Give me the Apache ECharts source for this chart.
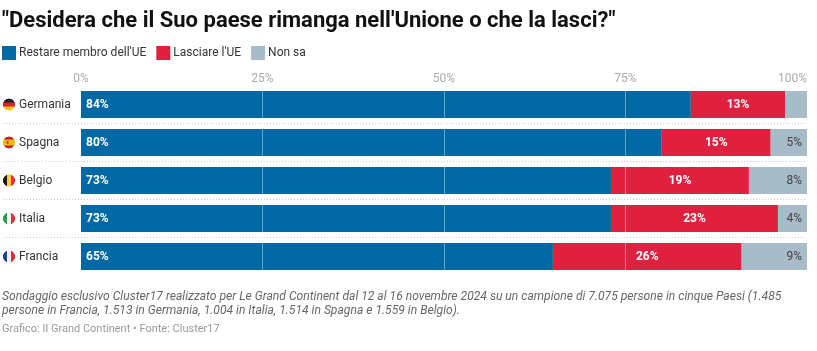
<!DOCTYPE html>
<html><head><meta charset="utf-8">
<script src="https://cdn.jsdelivr.net/npm/echarts@6/dist/echarts.min.js"></script>
<style>html,body{margin:0;padding:0;background:#fff}#c{width:817px;height:351px}</style>
</head><body><div id="c"></div>
<script>
const categories = ["Germania","Spagna","Belgio","Italia","Francia"];
const restare = [84,80,73,73,65];
const lasciare = [13,15,19,23,26];
const nonSa = [3,5,8,4,9];
const seriesNames = ["Restare membro dell'UE","Lasciare l'UE","Non sa"];
const colors = ["#0069a3","#df203e","#a7bbc8"];
const titleText = "\"Desidera che il Suo paese rimanga nell'Unione o che la lasci?\"";
const note1 = "Sondaggio esclusivo Cluster17 realizzato per Le Grand Continent dal 12 al 16 novembre 2024 su un campione di 7.075 persone in cinque Paesi (1.485";
const note2 = "persone in Francia, 1.513 in Germania, 1.004 in Italia, 1.514 in Spagna e 1.559 in Belgio).";
const credit = "Grafico: Il Grand Continent • Fonte: Cluster17";
const flags = {
  Germania:{dir:"h",c:["#222222","#d8242a","#f5c518"]},
  Spagna:{dir:"h",c:["#c8202a","#f2b90f","#f2b90f","#c8202a"],emblem:"#a0522d"},
  Belgio:{dir:"v",c:["#1a1a1a","#f6d22b","#e5303c"]},
  Italia:{dir:"v",c:["#2e9a4f","#f4f4f4","#e2303c"]},
  Francia:{dir:"v",c:["#1f3f94","#f4f4f4","#e5283c"]}
};
function flagCanvas(f){
  const s=4, d=12*s, cv=document.createElement("canvas");
  cv.width=cv.height=d;
  const g=cv.getContext("2d");
  g.beginPath();g.arc(d/2,d/2,d/2,0,Math.PI*2);g.clip();
  const n=f.c.length;
  f.c.forEach((col,i)=>{
    g.fillStyle=col;
    if(f.dir==="h")g.fillRect(0,i*d/n,d,d/n+1);else g.fillRect(i*d/n,0,d/n+1,d);
  });
  if(f.emblem){g.fillStyle=f.emblem;g.fillRect(d*0.3,d*0.38,d*0.16,d*0.24);}
  return cv;
}
const rich={name:{fontFamily:"Roboto",fontSize:12,color:"#333",padding:[1,0,0,4]}};
categories.forEach((n,i)=>{rich["f"+i]={width:12,height:12,backgroundColor:{image:flagCanvas(flags[n])}};});
const F="Roboto";
function bar(name,data,i,label){
  return {name,type:"bar",stack:"t",data,barWidth:27,itemStyle:{color:colors[i]},label,xAxisIndex:0,yAxisIndex:0};
}
const chart=echarts.init(document.getElementById("c"),null,{renderer:"canvas"});
chart.setOption({
  animation:false,
  backgroundColor:"#fff",
  textStyle:{fontFamily:F},
  title:[
    {text:titleText,left:2,top:10,padding:0,textStyle:{fontFamily:F,fontSize:22,fontWeight:"bold",color:"#111"}},
    {text:note1,left:2,top:291,padding:0,textStyle:{fontFamily:F,fontSize:12.1,fontStyle:"italic",fontWeight:"normal",color:"#666"}},
    {text:note2,left:2,top:305,padding:0,textStyle:{fontFamily:F,fontSize:12.1,fontStyle:"italic",fontWeight:"normal",color:"#666"}},
    {text:credit,left:2,top:324,padding:0,textStyle:{fontFamily:F,fontSize:11,fontWeight:"normal",color:"#999"}}
  ],
  legend:{left:2,top:46,padding:0,itemWidth:14,itemHeight:14,itemGap:10,icon:"rect",data:seriesNames,selectedMode:false,
    textStyle:{fontFamily:F,fontSize:12,color:"#333",padding:[0,0,0,-2]}},
  grid:[
    {left:81,width:726,top:85.5,height:190,containLabel:false},
    {left:3,width:804,top:85.5,height:190}
  ],
  xAxis:[
    {type:"value",gridIndex:0,position:"top",min:0,max:100,interval:25,z:5,
      axisLine:{show:false},axisTick:{show:false},
      axisLabel:{margin:1,color:"#aaa",fontFamily:F,fontSize:12,formatter:"{value}%",alignMaxLabel:"right"},
      splitLine:{show:true,showMinLine:false,showMaxLine:false,lineStyle:{color:"rgba(255,255,255,0.4)",width:1}}},
    {type:"value",gridIndex:1,min:0,max:100,show:false}
  ],
  yAxis:[
    {type:"category",gridIndex:0,inverse:true,data:categories,
      axisLine:{show:false},axisTick:{show:false},splitLine:{show:false},
      axisLabel:{margin:78,align:"left",rich,
        formatter:(v)=>"{f"+categories.indexOf(v)+"|}{name|"+v+"}"}},
    {type:"category",gridIndex:1,inverse:true,data:categories,
      axisLine:{show:false},axisTick:{show:false},axisLabel:{show:false},
      splitLine:{show:true,showMinLine:false,showMaxLine:false,lineStyle:{color:"#ccc",type:[1,2],width:1}}}
  ],
  series:[
    bar(seriesNames[0],restare,0,{show:true,position:"insideLeft",distance:5,color:"#fff",fontFamily:F,fontSize:12,fontWeight:"bold",formatter:"{c}%"}),
    bar(seriesNames[1],lasciare,1,{show:true,position:"inside",color:"#fff",fontFamily:F,fontSize:12,fontWeight:"bold",formatter:"{c}%"}),
    bar(seriesNames[2],nonSa,2,{show:true,position:"insideRight",distance:5,color:"#444",fontFamily:F,fontSize:12,fontWeight:"normal",
      formatter:(p)=>p.value>=4?p.value+"%":""})
  ]
});
</script></body></html>
